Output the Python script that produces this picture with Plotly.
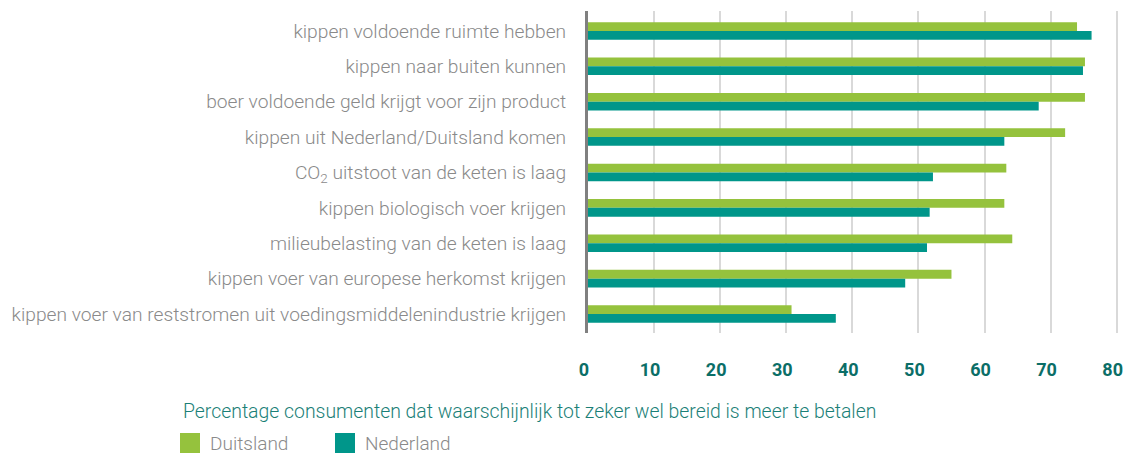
import plotly.graph_objects as go

categories = [
    "kippen voldoende ruimte hebben",
    "kippen naar buiten kunnen",
    "boer voldoende geld krijgt voor zijn product",
    "kippen uit Nederland/Duitsland komen",
    "CO<sub>2</sub> uitstoot van de keten is laag",
    "kippen biologisch voer krijgen",
    "milieubelasting van de keten is laag",
    "kippen voer van europese herkomst krijgen",
    "kippen voer van reststromen uit voedingsmiddelenindustrie krijgen",
]
duitsland = [74.0, 75.2, 75.2, 72.2, 63.3, 63.0, 64.2, 55.0, 30.8]
nederland = [76.2, 74.9, 68.2, 63.0, 52.2, 51.7, 51.3, 48.0, 37.5]
tick_vals = [0, 10, 20, 30, 40, 50, 60, 70, 80]
series_names = ["Duitsland", "Nederland"]

GREEN = "#95c23d"
TEAL = "#00968a"
FONT = "Roboto"
GRAY = "#8a8a8a"

fig = go.Figure()
for name, vals, col in [(series_names[0], duitsland, GREEN), (series_names[1], nederland, TEAL)]:
    fig.add_trace(go.Bar(
        y=categories, x=vals, orientation="h", name=name,
        marker=dict(color=col, line=dict(width=0)),
        showlegend=False, hoverinfo="x+name",
    ))
for name, col in [(series_names[0], GREEN), (series_names[1], TEAL)]:
    fig.add_trace(go.Scatter(
        x=[None], y=[None], mode="markers", name=name,
        marker=dict(symbol="square", size=20, color=col, line=dict(width=4, color=col)),
        showlegend=True,
    ))

fig.update_layout(
    template="none",
    width=1126, height=455,
    margin=dict(l=588, r=8, t=11, b=122, autoexpand=False),
    paper_bgcolor="white", plot_bgcolor="white",
    barmode="group", bargap=0.505, bargroupgap=0,
    font=dict(family=FONT, color=GRAY, size=19, weight=300),
    showlegend=True,
    legend=dict(
        orientation="h", xref="container", yref="container",
        x=0.151, xanchor="left", y=0.026, yanchor="middle",
        font=dict(family=FONT, size=19, color=GRAY, weight=300),
        bgcolor="rgba(0,0,0,0)", traceorder="normal",
        entrywidth=110, entrywidthmode="pixels",
    ),
    xaxis=dict(
        automargin=False,
        range=[0, 80.2], tickvals=tick_vals, ticktext=[str(v) for v in tick_vals],
        showgrid=True, gridcolor="#d9d9d9", gridwidth=2,
        zeroline=False, showline=False,
        ticks="outside", ticklen=20, tickcolor="rgba(0,0,0,0)",
        ticklabelshift=-4,
        tickfont=dict(family=FONT, size=18, color="#0b6e67", weight="bold"),
        fixedrange=True,
    ),
    yaxis=dict(
        automargin=False,
        type="category", categoryorder="array", categoryarray=categories,
        range=[8.537, -0.565],
        showgrid=False, zeroline=False,
        showline=True, linecolor="#808080", linewidth=3,
        ticks="", ticklabelstandoff=15,
        tickfont=dict(family=FONT, size=19.2, color=GRAY, weight=300),
        fixedrange=True,
    ),
    annotations=[dict(
        text="Percentage consumenten dat waarschijnlijk tot zeker wel bereid is meer te betalen",
        xref="paper", yref="paper", x=-0.7675, y=-0.243, xanchor="left", yanchor="middle",
        showarrow=False, font=dict(family=FONT, size=19.4, color="#1b7f77", weight=300),
    )],
)

fig.write_html(
    "out.html",
    config={"displayModeBar": False},
    post_script="document.body.style.margin='0';document.body.style.padding='0';",
)
